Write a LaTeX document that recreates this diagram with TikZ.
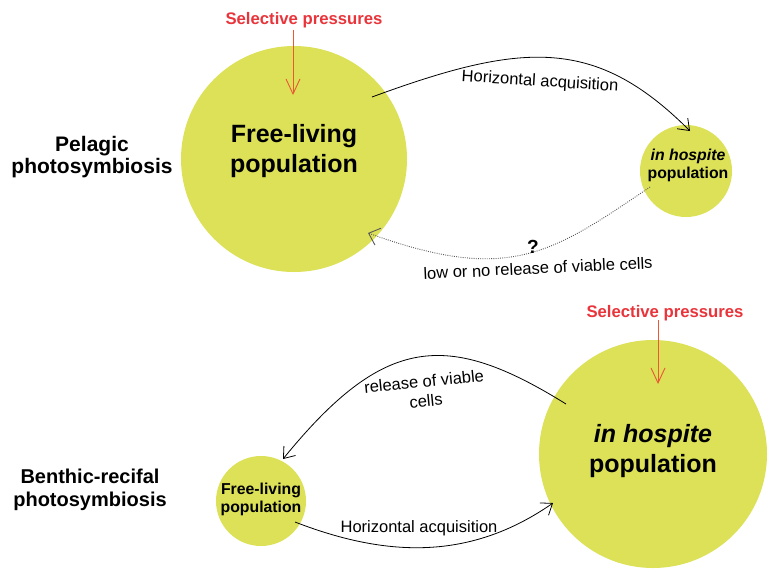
\documentclass[tikz,border=0pt]{standalone}
\usepackage{fontspec}
\setmainfont{Liberation Sans}
\usetikzlibrary{arrows.meta}
\definecolor{blob}{RGB}{220,225,88}
\definecolor{pressred}{RGB}{232,52,58}
\definecolor{pressarrow}{RGB}{234,88,52}
\begin{document}
\begin{tikzpicture}[x=1pt,y=-1pt,
  pop/.style={circle, fill=blob, inner sep=0pt, outer sep=0pt},
  lbl/.style={font=\fontsize{16.5}{19.5}\selectfont, inner sep=0pt, align=center},
  side/.style={font=\bfseries\fontsize{21}{22}\selectfont, align=center, inner sep=0pt},
  bigtxt/.style={font=\bfseries\fontsize{25}{30}\selectfont, align=center, inner sep=0pt},
  smalltxt/.style={font=\bfseries\fontsize{15.8}{18}\selectfont, align=center, inner sep=0pt},
  press/.style={font=\bfseries\fontsize{16.7}{19}\selectfont, text=pressred, inner sep=0pt},
  pressarr/.style={draw=pressarrow, line width=0.9pt, -{Straight Barb[length=15pt,width=14pt]}},
  conn/.style={draw=black, line width=0.8pt, -{Straight Barb[length=10pt,width=15pt]}},
  dotconn/.style={draw=black!65, line width=0.9pt, dash pattern=on 0.9pt off 1.3pt, -{Straight Barb[length=10pt,width=18pt]}}
]
\useasboundingbox (0,0) rectangle (783,579);

% populations
\node[pop, minimum size=226pt] (fl1) at (294,159) {};
\node[pop, minimum size=92pt]  (ih1) at (686,171) {};
\node[pop, minimum size=228pt] (ih2) at (653,454) {};
\node[pop, minimum size=90pt]  (fl2) at (261,501) {};

\node[bigtxt]   (fl1t) at (294,151) {Free-living\\population};
\node[smalltxt] (ih1t) at (688,165) {\itshape in hospite\\population};
\node[bigtxt]   (ih2t) at (653,451) {\itshape in hospite\\population};
\node[smalltxt] (fl2t) at (261,499.5) {Free-living\\population};

% side labels
\node[side] (pel) at (92,157) {Pelagic\\photosymbiosis};
\node[side, font=\bfseries\fontsize{20}{23}\selectfont] (ben) at (90,490) {Benthic-recifal\\photosymbiosis};

% selective pressures
\node[press, anchor=base] (sp1) at (304,24) {Selective pressures};
\node[press, anchor=base] (sp2) at (665,317) {Selective pressures};
\coordinate (sp1s) at (293,30);
\coordinate (sp1e) at (293,95);
\coordinate (sp2s) at (658,320);
\coordinate (sp2e) at (658,384);
\draw[pressarr] (sp1s) -- (sp1e);
\draw[pressarr] (sp2s) -- (sp2e);

% pelagic connectors
\coordinate (ha1s) at (372,97);
\coordinate (ha1e) at (690,131);
\draw[conn] (ha1s) .. controls (522,42) and (595,36) .. (ha1e);
\node[lbl, rotate=-3.7] (ha1) at (540,82) {Horizontal acquisition};

\coordinate (rl1s) at (650,187);
\coordinate (rl1e) at (368,233);
\draw[dotconn] (rl1s) .. controls (551,254) and (509,284) .. (rl1e);
\node[font=\bfseries\fontsize{19}{21}\selectfont, inner sep=0pt] (q) at (533,246.5) {?};
\node[lbl, rotate=2.7] (rl1) at (538,268) {low or no release of viable cells};

% benthic connectors
\coordinate (rl2s) at (566,404);
\coordinate (rl2e) at (283,459);
\draw[conn] (rl2s) .. controls (447,330) and (384,335) .. (rl2e);
\node[lbl, rotate=5.7] (rl2) at (425,391) {release of viable\\cells};

\coordinate (ha2s) at (295,522);
\coordinate (ha2e) at (553,503);
\draw[conn] (ha2s) .. controls (388,558) and (471,560) .. (ha2e);
\node[lbl] (ha2) at (419,528.7) {Horizontal acquisition};
\end{tikzpicture}
\end{document}
